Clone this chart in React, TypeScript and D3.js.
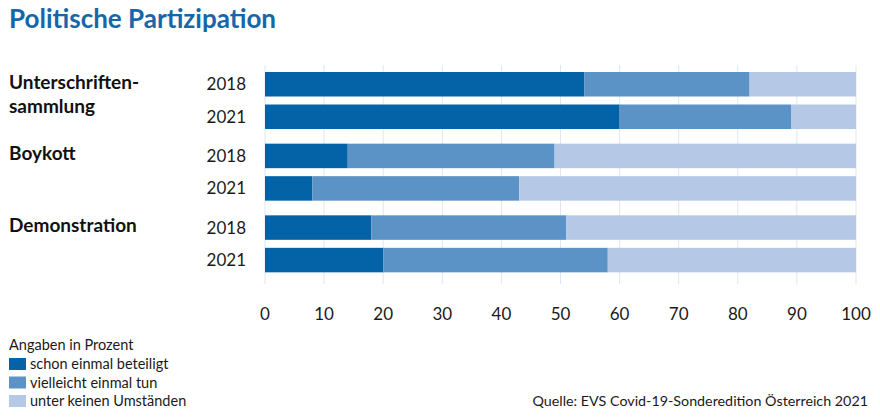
import React, { useEffect, useRef } from 'react';
import * as d3 from 'd3';

const categories = ['Unterschriften-\nsammlung', 'Boykott', 'Demonstration'];
const years = ['2018', '2021'];
const seriesNames = ['schon einmal beteiligt', 'vielleicht einmal tun', 'unter keinen Umständen'];
// values per category and year, in percent: [beteiligt, vielleicht, nie]
const values2018 = [
  [54, 28, 18],
  [14, 35, 51],
  [18, 33, 49],
];
const values2021 = [
  [60, 29, 11],
  [8, 35, 57],
  [20, 38, 42],
];
const xTicks = [0, 10, 20, 30, 40, 50, 60, 70, 80, 90, 100];
const colors = ['#0463a6', '#5b93c7', '#b5c9e7'];

const App: React.FC = () => {
  const svgRef = useRef<SVGSVGElement | null>(null);

  useEffect(() => {
    if (!svgRef.current) return;
    const svg = d3.select(svgRef.current);
    svg.selectAll('*').remove();

    const width = 880;
    const height = 419;
    const font = 'Lato, "Noto Sans", sans-serif';

    const x = d3.scaleLinear().domain([0, 100]).range([265, 856]);

    // group position and row within group
    const groupScale = d3.scaleBand<number>().domain([0, 1, 2]).range([72, 287]).paddingInner(0);
    const rowStep = 32.5;
    const barH = 24.5;

    svg.attr('width', width).attr('height', height);

    // title
    svg.append('text')
      .attr('x', 9)
      .attr('y', 28)
      .text('Politische Partizipation')
      .style('font-family', font)
      .style('font-size', '26px')
      .style('font-weight', 'bold')
      .style('fill', '#1666aa');

    // gridlines
    svg.append('g')
      .selectAll('line')
      .data(xTicks)
      .enter()
      .append('line')
      .attr('x1', d => x(d))
      .attr('x2', d => x(d))
      .attr('y1', 65)
      .attr('y2', 284)
      .attr('stroke', '#dce7f3')
      .attr('stroke-width', 1);

    // bars
    const rows: { cat: number; yr: number; vals: number[] }[] = [];
    categories.forEach((_, i) => {
      rows.push({ cat: i, yr: 0, vals: values2018[i] });
      rows.push({ cat: i, yr: 1, vals: values2021[i] });
    });

    const rowY = (r: { cat: number; yr: number }) => (groupScale(r.cat) as number) + r.yr * rowStep;

    rows.forEach(r => {
      const stack = d3.stack<number[]>().keys(['0', '1', '2']).value((d, k) => d[+k])([r.vals]);
      stack.forEach((s, si) => {
        svg.append('rect')
          .attr('x', x(s[0][0]))
          .attr('y', rowY(r))
          .attr('width', x(s[0][1]) - x(s[0][0]))
          .attr('height', barH)
          .attr('fill', colors[si]);
      });

      svg.append('text')
        .attr('x', 246)
        .attr('y', rowY(r) + barH / 2)
        .attr('dy', '0.35em')
        .attr('text-anchor', 'end')
        .text(years[r.yr])
        .style('font-family', font)
        .style('font-size', '17px')
        .style('fill', '#1a1a1a');
    });

    // category labels
    categories.forEach((c, i) => {
      const lines = c.split('\n');
      lines.forEach((ln, li) => {
        svg.append('text')
          .attr('x', 9)
          .attr('y', (groupScale(i) as number) + 10 + li * 24)
          .attr('dy', '0.35em')
          .text(ln)
          .style('font-family', font)
          .style('font-size', '19px')
          .style('font-weight', 'bold')
          .style('fill', '#111');
      });
    });

    // x axis labels
    svg.append('g')
      .selectAll('text')
      .data(xTicks)
      .enter()
      .append('text')
      .attr('x', d => x(d))
      .attr('y', 314)
      .attr('dy', '0.35em')
      .attr('text-anchor', 'middle')
      .text(d => d)
      .style('font-family', font)
      .style('font-size', '17px')
      .style('fill', '#1a1a1a');

    // legend
    svg.append('text')
      .attr('x', 9)
      .attr('y', 345)
      .attr('dy', '0.35em')
      .text('Angaben in Prozent')
      .style('font-family', font)
      .style('font-size', '14.5px')
      .style('fill', '#1a1a1a');

    seriesNames.forEach((s, i) => {
      const cy = 364 + i * 18.5;
      svg.append('rect')
        .attr('x', 9)
        .attr('y', cy - 6)
        .attr('width', 17)
        .attr('height', 12)
        .attr('fill', colors[i]);
      svg.append('text')
        .attr('x', 30)
        .attr('y', cy)
        .attr('dy', '0.35em')
        .text(s)
        .style('font-family', font)
        .style('font-size', '14.5px')
        .style('fill', '#1a1a1a');
    });

    // source
    svg.append('text')
      .attr('x', 868)
      .attr('y', 401)
      .attr('dy', '0.35em')
      .attr('text-anchor', 'end')
      .text('Quelle: EVS Covid-19-Sonderedition Österreich 2021')
      .style('font-family', font)
      .style('font-size', '14.3px')
      .style('fill', '#1a1a1a');
  }, []);

  return <svg ref={svgRef} style={{ display: 'block', position: 'absolute', left: 0, top: 0 }}></svg>;
};

export default App;
